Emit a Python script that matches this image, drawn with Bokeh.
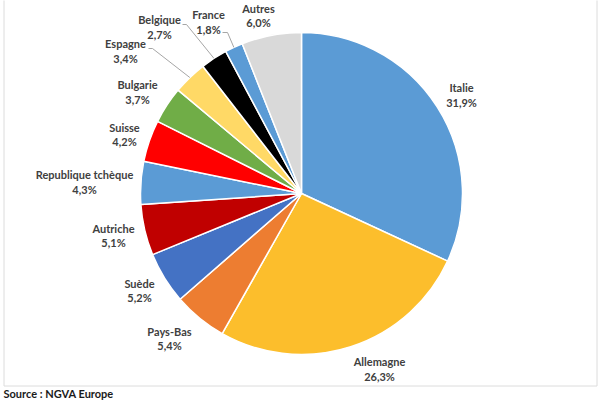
import math
from bokeh.plotting import figure
from bokeh.models import Range1d
from bokeh.core.properties import value
from bokeh.embed import file_html
from bokeh.resources import INLINE

# ---- data ----
countries = ["Italie", "Allemagne", "Pays-Bas", "Suède", "Autriche",
             "Republique tchèque", "Suisse", "Bulgarie", "Espagne",
             "Belgique", "France", "Autres"]
shares = [31.9, 26.3, 5.4, 5.2, 5.1, 4.3, 4.2, 3.7, 3.4, 2.7, 1.8, 6.0]
colors = ["#5B9BD5", "#FCBE2C", "#ED7D31", "#4472C4", "#C00000", "#5B9BD5",
          "#FF0000", "#70AD47", "#FFD966", "#000000", "#5B9BD5", "#D9D9D9"]
source_text = "Source : NGVA Europe"

# ---- layout (pixels, y downward) ----
CX, CY, R = 301, 193, 161
label_x = [461, 379, 169, 139, 113, 84, 124, 137, 125, 159, 208, 258]
label_y = [94.5, 368.5, 338, 290, 235, 181.5, 134, 91.5, 50.5, 26.5, 21.5, 15]
# leader lines: index -> (label end x, y, elbow x)
leaders = {8: (148, 48, 152), 9: (182, 24, 186), 10: (222, 32, 227)}

FONT = "Lato"
TXT = "#404040"

p = figure(width=600, height=400, x_range=Range1d(0, 600), y_range=Range1d(400, 0),
           x_axis_type=None, y_axis_type=None, toolbar_location=None,
           output_backend="svg", min_border=0, outline_line_color=None,
           background_fill_color="white", border_fill_color="white")
p.grid.visible = False

# frame box
p.quad(left=[3.5], right=[596.5], top=[-2], bottom=[385.5], fill_alpha=0,
       line_color="#DCDCDC", line_width=1)

total = sum(shares)
starts, ends, mids = [], [], []
cum = 0.0
for s in shares:
    a0 = math.pi / 2 - 2 * math.pi * cum / total
    cum += s
    a1 = math.pi / 2 - 2 * math.pi * cum / total
    starts.append(a0)
    ends.append(a1)
    mids.append((a0 + a1) / 2)

# screen-space angles: y axis is flipped, bokeh wedge angles are screen based
p.wedge(x=[CX] * len(shares), y=[CY] * len(shares), radius=R,
        start_angle=starts, end_angle=ends, direction="clock",
        fill_color=colors, line_color="white", line_width=1.5)

# leader lines
xs, ys = [], []
for i, (lx, ly, ex) in leaders.items():
    px = CX + R * math.cos(mids[i])
    py = CY - R * math.sin(mids[i])
    xs.append([lx, ex, px])
    ys.append([ly, ly, py])
p.multi_line(xs=xs, ys=ys, line_color="#A6A6A6", line_width=1)

pct = [f"{v:.1f}%".replace(".", ",") for v in shares]
p.text(x=label_x, y=[y - 7.3 for y in label_y], text=countries,
       text_font=value(FONT), text_font_style="bold", text_font_size="11px",
       text_color=TXT, text_align="center", text_baseline="middle")
p.text(x=label_x, y=[y + 7.3 for y in label_y], text=pct,
       text_font=value(FONT), text_font_style="bold", text_font_size="11px",
       text_color=TXT, text_align="center", text_baseline="middle")

p.text(x=[3], y=[393], text=[source_text], text_font=value(FONT),
       text_font_style="bold", text_font_size="11px", text_color="#1A1A1A",
       text_align="left", text_baseline="middle")

open("out.html", "w").write(file_html(p, INLINE))
